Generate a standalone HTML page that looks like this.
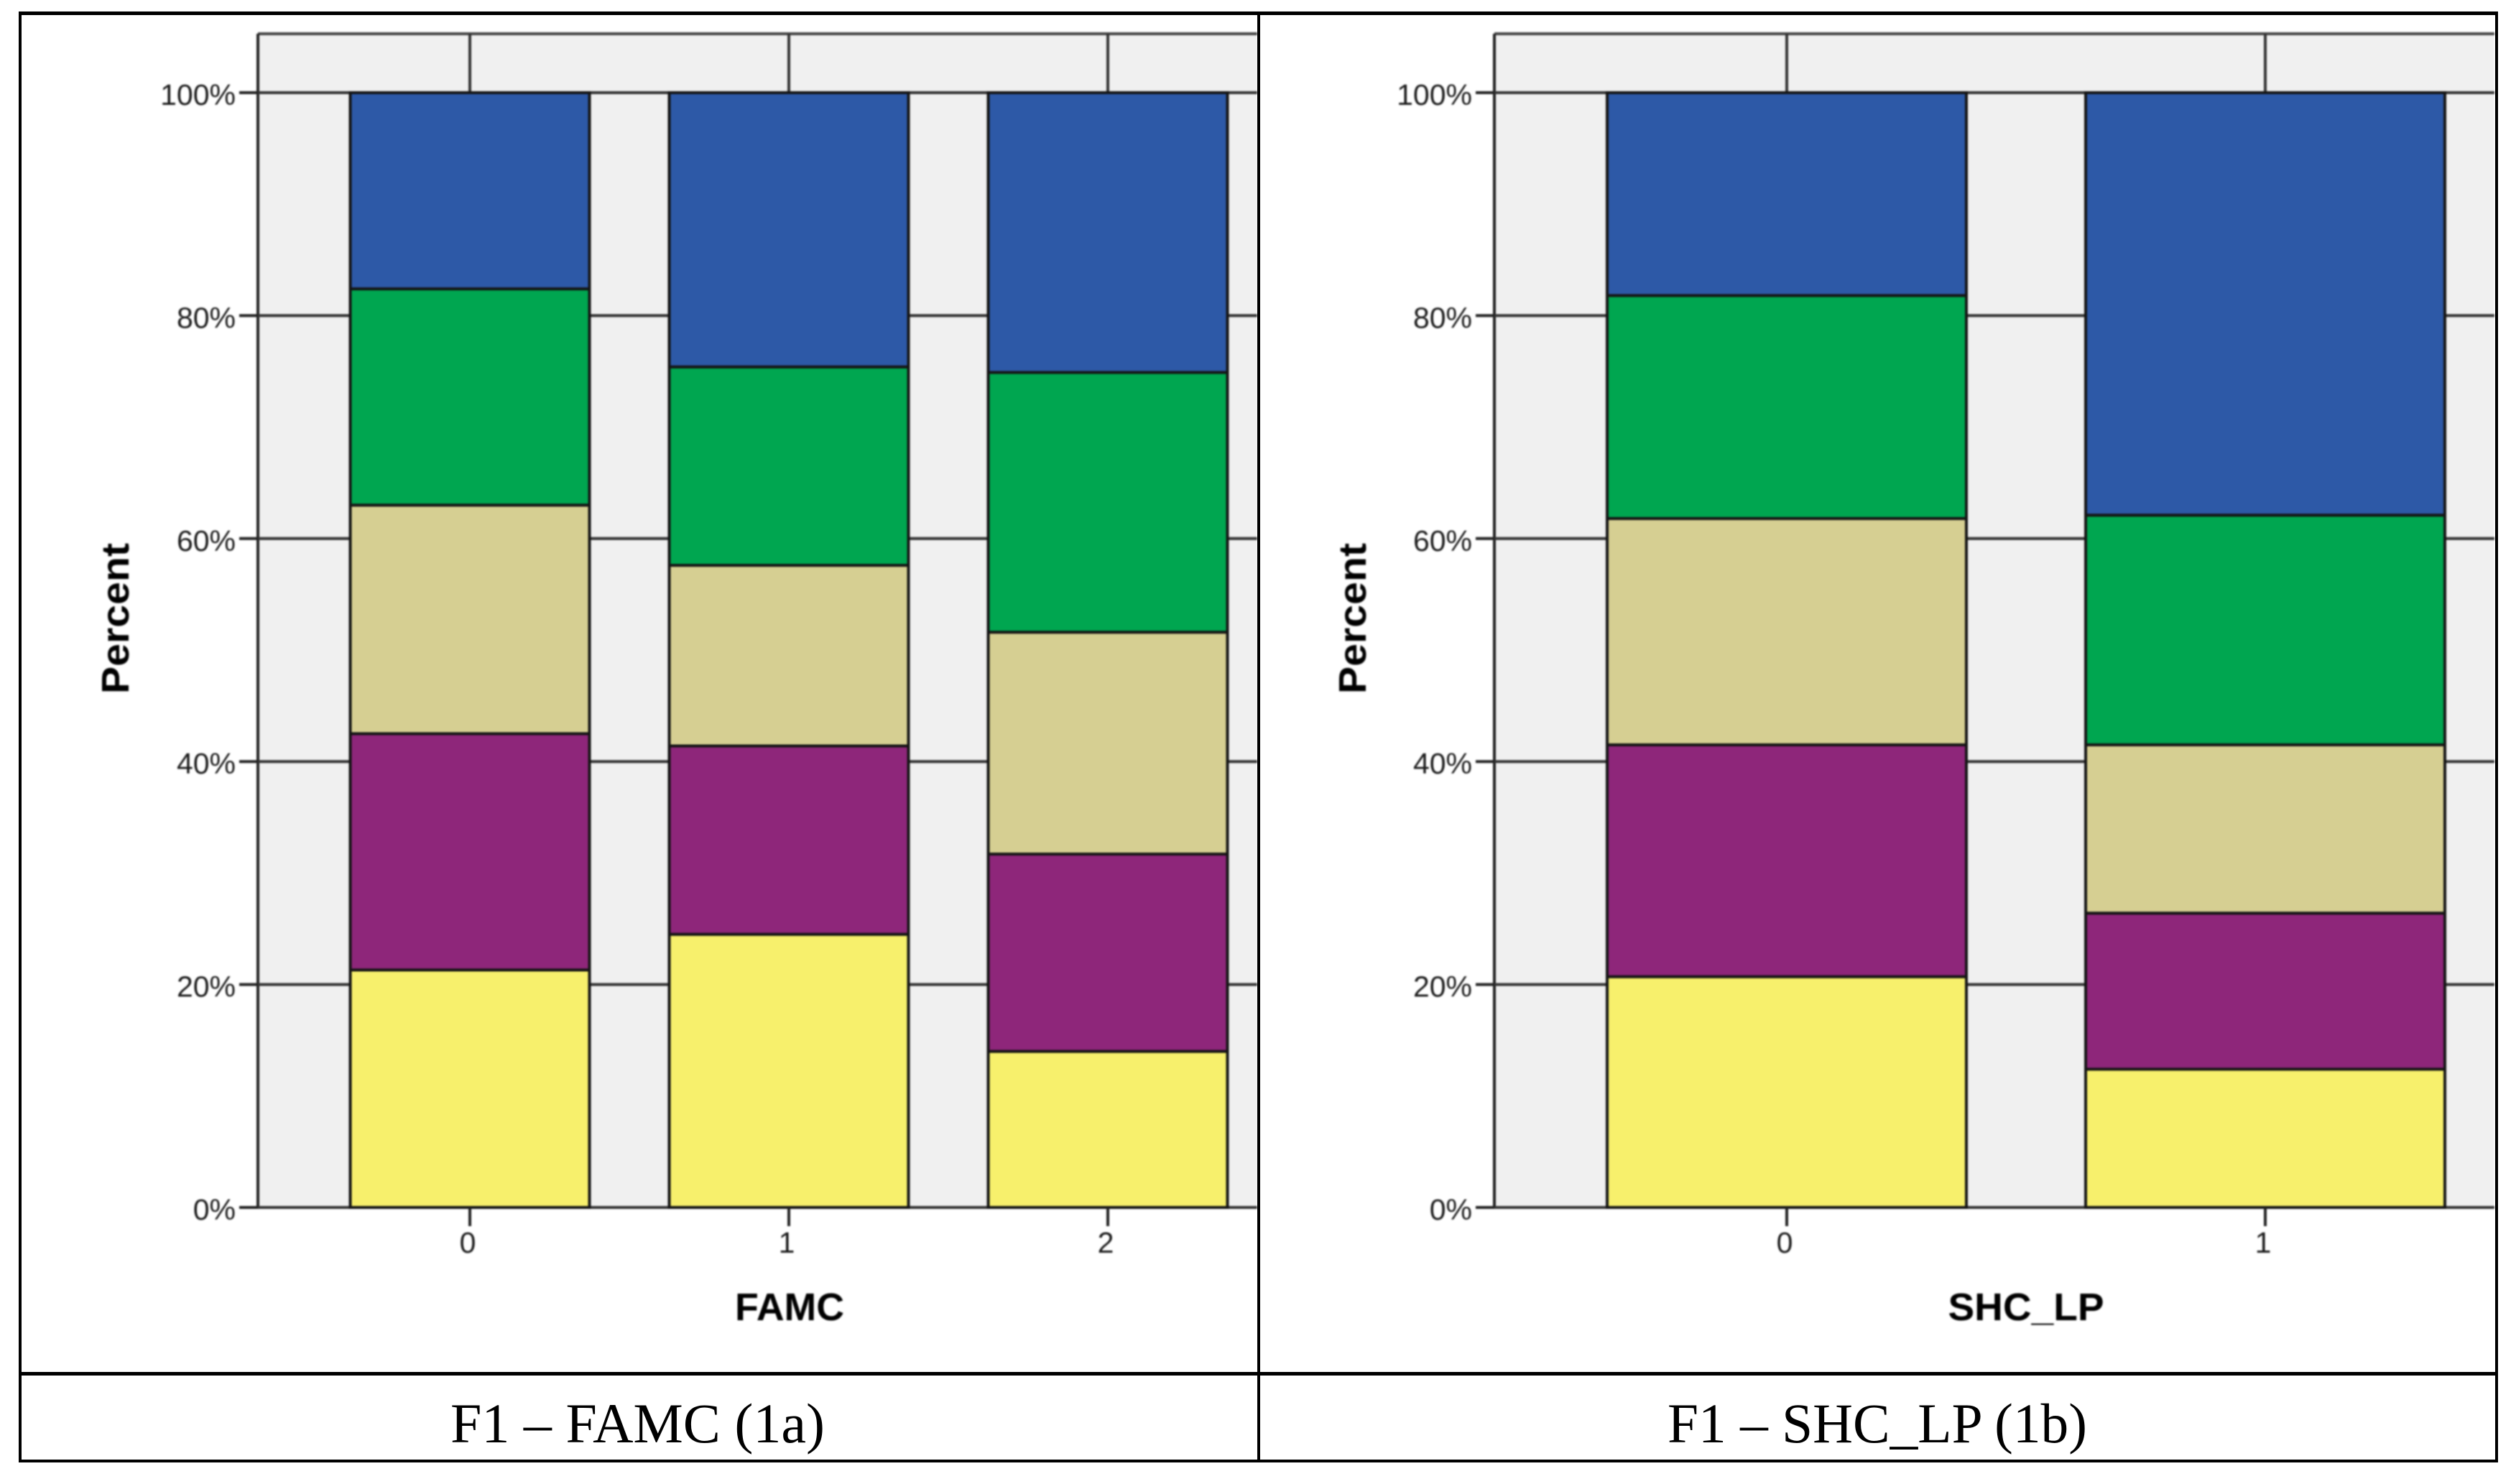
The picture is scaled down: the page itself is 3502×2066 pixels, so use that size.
<!DOCTYPE html>
<html lang="en">
<head>
<meta charset="utf-8">
<title>F1 stacked percent bars by FAMC and SHC_LP</title>
<style>
html,body{margin:0;padding:0;background:#fff;width:3502px;height:2066px;overflow:hidden}
svg{display:block}
text{font-family:"Liberation Sans",sans-serif;fill:#1c1c1c}
.soft{filter:blur(1px)}
.caption{font-family:"Liberation Serif",serif;font-size:78px;fill:#000}
.axis-title{font-size:54px;font-weight:bold;fill:#000}
.tick{font-size:41px}
</style>
</head>
<body>
<svg id="figure" xmlns="http://www.w3.org/2000/svg" width="3502" height="2066" viewBox="0 0 3502 2066">
  <rect x="0" y="0" width="3502" height="2066" fill="#fff"/>
  <g id="chart-a" class="soft"></g>
  <g id="chart-b" class="soft"></g>
  <g fill="#000">
    <rect x="26" y="16" width="3451" height="5"/>
    <rect x="26" y="16" width="4" height="2020"/>
    <rect x="1750" y="16" width="4" height="2020"/>
    <rect x="3473" y="16" width="4" height="2020"/>
    <rect x="26" y="1910" width="3451" height="5"/>
    <rect x="26" y="2032" width="3451" height="4"/>
  </g>
  <text class="caption" x="627" y="2008" textLength="521" lengthAdjust="spacingAndGlyphs">F1 – FAMC (1a)</text>
  <text class="caption" x="2321" y="2008" textLength="584" lengthAdjust="spacingAndGlyphs">F1 – SHC_LP (1b)</text>
</svg>
<script>
const yTicks = [0, 20, 40, 60, 80, 100];
const seriesNames = ['yellow', 'purple', 'tan', 'green', 'blue'];
const seriesColors = ['#f7f06c', '#8e267a', '#d6cf92', '#00a650', '#2d59a7'];

const famcCategories = ['0', '1', '2'];
const famcYellow = [21.3, 24.5, 14.0];
const famcPurple = [21.2, 16.9, 17.7];
const famcTan = [20.5, 16.2, 19.9];
const famcGreen = [19.4, 17.8, 23.3];
const famcBlue = [17.6, 24.6, 25.1];

const shcCategories = ['0', '1'];
const shcYellow = [20.7, 12.4];
const shcPurple = [20.8, 14.0];
const shcTan = [20.3, 15.1];
const shcGreen = [20.0, 20.6];
const shcBlue = [18.2, 37.9];

const SVG_NS = 'http://www.w3.org/2000/svg';

function shape(parent, tag, attrs, content) {
  const el = document.createElementNS(SVG_NS, tag);
  for (const key in attrs) el.setAttribute(key, attrs[key]);
  if (content !== undefined) el.textContent = content;
  parent.appendChild(el);
  return el;
}

function drawChart(parent, cfg) {
  const top = 47, y100 = 129, y0 = 1681;
  const yScale = v => y0 - (v / 100) * (y0 - y100);
  const xScale = i => cfg.firstCenter + i * cfg.step;
  const ink = '#222';

  const plot = shape(parent, 'rect', {x: cfg.left, y: top, width: cfg.right - cfg.left, height: y0 - top, fill: '#f0f0f0'});
  
  

  const topLine = shape(parent, 'line', {x1: cfg.left, x2: cfg.right, y1: top, y2: top, stroke: '#444', 'stroke-width': 4});
  
  

  const leftLine = shape(parent, 'line', {x1: cfg.left, x2: cfg.left, y1: top, y2: y0, stroke: ink, 'stroke-width': 4});
  
  

  yTicks.forEach(v => {
    const y = yScale(v);
    const grid = shape(parent, 'line', {x1: cfg.left, x2: cfg.right, y1: y, y2: y, stroke: '#333', 'stroke-width': 4});
    
    

    const tick = shape(parent, 'line', {x1: cfg.left - 26, x2: cfg.left, y1: y, y2: y, stroke: ink, 'stroke-width': 4});
    
    

    const label = shape(parent, 'text', {class: 'tick', x: cfg.left - 31, y: y + 17, 'text-anchor': 'end'}, v + '%');
    
    
  });

  cfg.categories.forEach((cat, i) => {
    const cx = xScale(i);

    const strip = shape(parent, 'line', {x1: cx, x2: cx, y1: top, y2: y100, stroke: '#333', 'stroke-width': 4});
    
    

    let acc = 0;
    cfg.series.forEach((values, s) => {
      const v = values[i];
      const yTop = yScale(acc + v);
      const yBottom = yScale(acc);
      const bar = shape(parent, 'rect', {x: cx - cfg.halfWidth, y: yTop, width: cfg.halfWidth * 2, height: yBottom - yTop, fill: seriesColors[s], stroke: '#151515', 'stroke-width': 4});
      
      
      acc += v;
    });

    const tick = shape(parent, 'line', {x1: cx, x2: cx, y1: y0, y2: y0 + 26, stroke: ink, 'stroke-width': 4});
    
    

    const label = shape(parent, 'text', {class: 'tick', x: cx - 3, y: y0 + 63, 'text-anchor': 'middle'}, cat);
    
    
  });

  const yTitle = shape(parent, 'text', {class: 'axis-title', x: 0, y: 0, 'text-anchor': 'middle', textLength: 210, lengthAdjust: 'spacingAndGlyphs', transform: 'translate(' + cfg.yTitleX + ',861) rotate(-90)'}, 'Percent');
  
  

  const xTitle = shape(parent, 'text', {class: 'axis-title', x: cfg.xTitleX, y: cfg.xTitleY, 'text-anchor': 'middle', textLength: cfg.xTitleLen, lengthAdjust: 'spacingAndGlyphs'}, cfg.xTitle);
  
  
}

drawChart(document.getElementById('chart-a'), {
  left: 359, right: 1750, firstCenter: 654, step: 444, halfWidth: 166.5,
  categories: famcCategories,
  series: [famcYellow, famcPurple, famcTan, famcGreen, famcBlue],
  yTitleX: 179, xTitleX: 1099, xTitleY: 1838, xTitleLen: 152, xTitle: 'FAMC'
});

drawChart(document.getElementById('chart-b'), {
  left: 2080, right: 3472, firstCenter: 2487, step: 666, halfWidth: 250,
  categories: shcCategories,
  series: [shcYellow, shcPurple, shcTan, shcGreen, shcBlue],
  yTitleX: 1901, xTitleX: 2820, xTitleY: 1838, xTitleLen: 217, xTitle: 'SHC_LP'
});
</script>
</body>
</html>
